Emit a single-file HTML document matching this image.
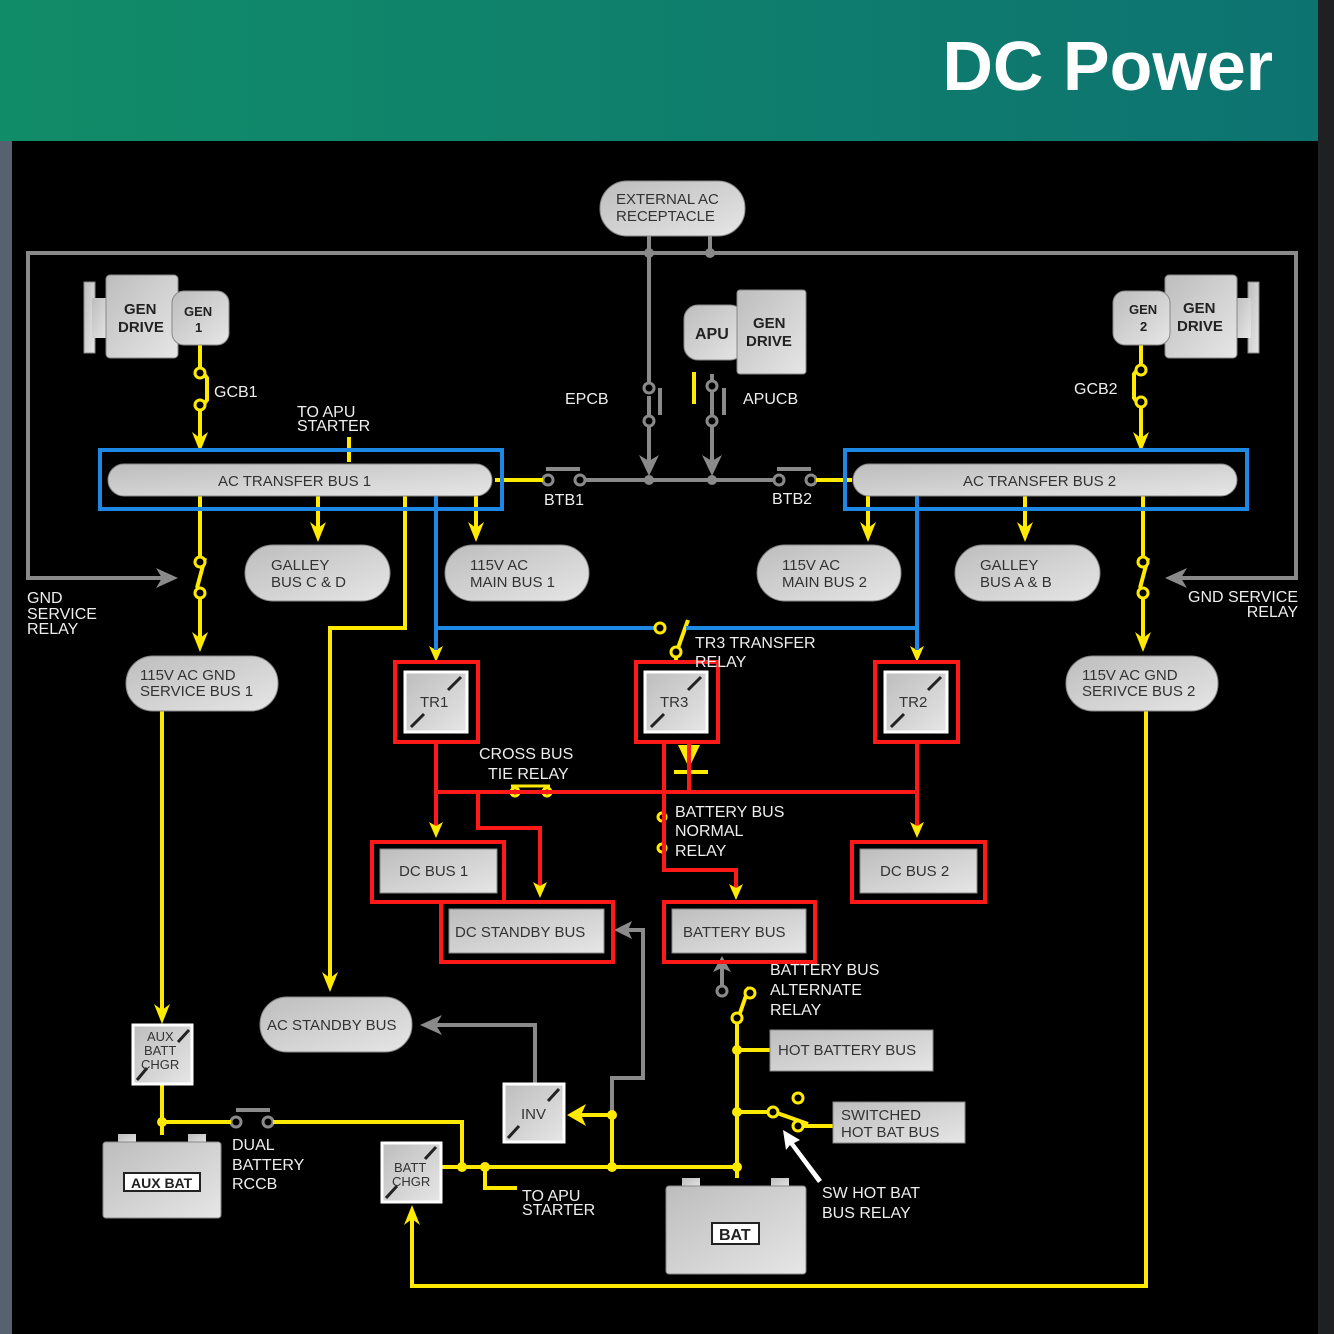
<!DOCTYPE html>
<html><head><meta charset="utf-8"><style>
html,body{margin:0;padding:0;background:#000;}
svg{display:block}
text{font-family:"Liberation Sans",sans-serif;}
</style></head><body>
<svg width="1334" height="1334" viewBox="0 0 1334 1334" xmlns="http://www.w3.org/2000/svg">
<defs>
<linearGradient id="hdr" x1="0" x2="1" y1="0" y2="0"><stop offset="0" stop-color="#118c68"/><stop offset="1" stop-color="#0d7371"/></linearGradient>
<linearGradient id="g" x1="0" x2="1" y1="0" y2="1"><stop offset="0" stop-color="#bdbdbd"/><stop offset="1" stop-color="#e6e6e6"/></linearGradient>
</defs>
<rect width="1334" height="1334" fill="#000"/>
<rect x="0" y="0" width="1318" height="141" fill="url(#hdr)"/>
<rect x="1318" y="0" width="16" height="1334" fill="#1f2022"/>
<rect x="0" y="141" width="12" height="1193" fill="#566270"/>
<text x="1273" y="90" text-anchor="end" font-size="70" font-weight="bold" fill="#fff">DC Power</text>

<g fill="none" stroke="#8a8a8a" stroke-width="4">
<polyline points="165,578 28,578 28,253 1296,253 1296,578 1180,578"/>
<line x1="649" y1="236" x2="649" y2="384"/><line x1="710" y1="236" x2="710" y2="253"/>
<line x1="649" y1="396" x2="649" y2="415"/><line x1="649" y1="427" x2="649" y2="462"/>
<line x1="712" y1="374" x2="712" y2="380"/><line x1="712" y1="392" x2="712" y2="415"/><line x1="712" y1="427" x2="712" y2="462"/>
<line x1="660" y1="388" x2="660" y2="415"/><line x1="724" y1="388" x2="724" y2="415"/>
<line x1="585" y1="480" x2="775" y2="480"/>
<line x1="546" y1="469" x2="580" y2="469"/><line x1="777" y1="469" x2="811" y2="469"/>
<polyline points="535,1083 535,1025 436,1025"/>
<polyline points="612,1115 612,1078 643,1078 643,930 628,930"/>
<line x1="722" y1="985" x2="722" y2="966"/>
<line x1="236" y1="1110" x2="270" y2="1110"/>
</g>
<g fill="#8a8a8a">
<polygon points="178,578 156,568 162,578 156,588"/><polygon points="1165,578 1187,568 1181,578 1187,588"/>
<polygon points="649,476 639,455 649,461 659,455"/><polygon points="712,476 702,455 712,461 722,455"/>
<polygon points="420,1025 442,1015 436,1025 442,1035"/><polygon points="614,930 632,921 628,930 632,939"/>
<polygon points="722,956 713,972 722,968 731,972"/>
<circle cx="649" cy="253" r="5"/><circle cx="710" cy="253" r="5"/><circle cx="649" cy="480" r="5"/><circle cx="712" cy="480" r="5"/>
</g>
<g fill="#000" stroke="#8a8a8a" stroke-width="3">
<circle cx="649" cy="388" r="5"/><circle cx="649" cy="421" r="5"/><circle cx="712" cy="386" r="5"/><circle cx="712" cy="421" r="5"/>
<circle cx="548" cy="480" r="5"/><circle cx="580" cy="480" r="5"/><circle cx="779" cy="480" r="5"/><circle cx="811" cy="480" r="5"/>
<circle cx="722" cy="991" r="5"/><circle cx="236" cy="1122" r="5"/><circle cx="268" cy="1122" r="5"/>
</g>

<!-- yellow -->
<g fill="none" stroke="#ffea00" stroke-width="4">
<line x1="200" y1="345" x2="200" y2="368"/><line x1="200" y1="410" x2="200" y2="440"/>
<polyline points="204,374 207,378 207,400 204,404"/>
<line x1="349" y1="437" x2="349" y2="462"/>
<line x1="1141" y1="345" x2="1141" y2="365"/><line x1="1141" y1="407" x2="1141" y2="440"/>
<polyline points="1137,370 1134,374 1134,398 1137,402"/>
<line x1="694" y1="372" x2="694" y2="404"/>
<line x1="495" y1="480" x2="543" y2="480"/><line x1="816" y1="480" x2="852" y2="480"/>
<line x1="200" y1="496" x2="200" y2="557"/><line x1="205" y1="558" x2="197" y2="588"/><line x1="200" y1="598" x2="200" y2="640"/>
<line x1="318" y1="496" x2="318" y2="530"/>
<line x1="476" y1="496" x2="476" y2="530"/>
<polyline points="405,496 405,628 330,628 330,980"/>
<line x1="868" y1="496" x2="868" y2="530"/>
<line x1="1025" y1="496" x2="1025" y2="530"/>
<line x1="1143" y1="496" x2="1143" y2="557"/><line x1="1148" y1="558" x2="1140" y2="588"/><line x1="1143" y1="598" x2="1143" y2="640"/>
<line x1="676" y1="652" x2="676" y2="662"/>
<line x1="678" y1="648" x2="688" y2="620"/>
<line x1="162" y1="711" x2="162" y2="1012"/>
<polyline points="1146,711 1146,1286 412,1286 412,1215"/>
<line x1="162" y1="1085" x2="162" y2="1135"/>
<line x1="162" y1="1122" x2="231" y2="1122"/>
<polyline points="273,1122 462,1122 462,1167"/>
<line x1="442" y1="1167" x2="737" y2="1167"/>
<polyline points="485,1167 485,1188 517,1188"/>
<line x1="612" y1="1115" x2="612" y2="1167"/>
<line x1="612" y1="1115" x2="580" y2="1115"/>
<line x1="737" y1="1178" x2="737" y2="1023"/>
<line x1="740" y1="1013" x2="749" y2="987"/>
<line x1="737" y1="1050" x2="770" y2="1050"/>
<line x1="737" y1="1112" x2="768" y2="1112"/>
<line x1="777" y1="1113" x2="808" y2="1124"/>
<line x1="803" y1="1126" x2="833" y2="1126"/>
</g>
<g fill="#ffea00">
<polygon points="200,452 192,432 200,438 208,432"/>
<polygon points="1141,452 1133,432 1141,438 1149,432"/>
<polygon points="200,652 192,632 200,638 208,632"/>
<polygon points="1143,652 1135,632 1143,638 1151,632"/>
<polygon points="318,542 310,522 318,528 326,522"/>
<polygon points="476,542 468,522 476,528 484,522"/>
<polygon points="868,542 860,522 868,528 876,522"/>
<polygon points="1025,542 1017,522 1025,528 1033,522"/>
<polygon points="330,992 322,972 330,978 338,972"/>
<polygon points="162,1024 154,1004 162,1010 170,1004"/>
<polygon points="436,662 429,646 436,650 443,646"/>
<polygon points="917,662 910,646 917,650 924,646"/>
<polygon points="412,1205 404,1225 412,1219 420,1225"/>
<polygon points="567,1115 586,1104 581,1115 586,1126"/>
<circle cx="162" cy="1122" r="5"/><circle cx="462" cy="1167" r="5"/><circle cx="485" cy="1167" r="5"/><circle cx="612" cy="1115" r="5"/><circle cx="612" cy="1167" r="5"/>
<circle cx="737" cy="1050" r="5"/><circle cx="737" cy="1112" r="5"/><circle cx="737" cy="1167" r="5"/>
<polygon points="678,745 700,745 689,768"/>
</g>
<line x1="674" y1="772" x2="708" y2="772" stroke="#ffea00" stroke-width="4"/>
<g fill="#000" stroke="#ffea00" stroke-width="3">
<circle cx="200" cy="373" r="5"/><circle cx="200" cy="405" r="5"/><circle cx="1141" cy="370" r="5"/><circle cx="1141" cy="402" r="5"/>
<circle cx="200" cy="562" r="5"/><circle cx="200" cy="593" r="5"/><circle cx="1143" cy="562" r="5"/><circle cx="1143" cy="593" r="5"/>
<circle cx="676" cy="652" r="5"/>
<circle cx="737" cy="1018" r="5"/><circle cx="750" cy="993" r="5"/>
<circle cx="773" cy="1112" r="5"/><circle cx="798" cy="1098" r="5"/><circle cx="798" cy="1126" r="5"/>
<circle cx="515" cy="792" r="4"/><circle cx="547" cy="792" r="4"/><circle cx="662" cy="817" r="4"/><circle cx="662" cy="848" r="4"/>
</g>
<line x1="511" y1="786" x2="550" y2="786" stroke="#ffea00" stroke-width="3"/>

<!-- blue -->
<g fill="none" stroke="#1e88e5" stroke-width="4">
<rect x="100" y="450" width="402" height="59"/>
<rect x="845" y="450" width="402" height="59"/>
<line x1="436" y1="496" x2="436" y2="650"/>
<line x1="436" y1="628" x2="655" y2="628"/>
<line x1="686" y1="628" x2="917" y2="628"/>
<line x1="917" y1="496" x2="917" y2="650"/>
</g>
<circle cx="660" cy="628" r="5" fill="#000" stroke="#ffea00" stroke-width="3"/>

<!-- red -->
<g fill="none" stroke="#ff1a1a" stroke-width="4">
<rect x="395" y="662" width="83" height="80"/>
<rect x="636" y="662" width="82" height="80"/>
<rect x="875" y="662" width="83" height="80"/>
<rect x="372" y="842" width="132" height="60"/>
<rect x="441" y="902" width="172" height="60"/>
<rect x="664" y="902" width="151" height="60"/>
<rect x="852" y="842" width="133" height="60"/>
<line x1="436" y1="742" x2="436" y2="830"/>
<line x1="436" y1="792" x2="917" y2="792"/>
<line x1="917" y1="742" x2="917" y2="830"/>
<polyline points="478,792 478,828 540,828 540,890"/>
<polyline points="664,742 664,870 736,870 736,892"/>
<line x1="689" y1="742" x2="689" y2="792"/>
</g>
<g fill="#ffea00">
<polygon points="436,838 429,822 436,826 443,822"/><polygon points="917,838 910,822 917,826 924,822"/>
<polygon points="540,898 533,882 540,886 547,882"/><polygon points="736,900 729,884 736,888 743,884"/>
</g>

<!-- shapes -->
<g fill="url(#g)" stroke="#888" stroke-width="1">
<rect x="600" y="181" width="145" height="55" rx="27"/>
<rect x="84" y="282" width="11" height="71"/><rect x="92" y="298" width="16" height="40" stroke="none"/>
<rect x="106" y="275" width="72" height="83" rx="4"/><rect x="172" y="291" width="57" height="54" rx="12"/>
<rect x="1248" y="282" width="11" height="71"/><rect x="1235" y="298" width="16" height="40" stroke="none"/>
<rect x="1165" y="275" width="72" height="83" rx="4"/><rect x="1113" y="291" width="57" height="54" rx="12"/>
<rect x="684" y="305" width="60" height="55" rx="14"/><rect x="737" y="290" width="69" height="84" rx="3"/>
<rect x="108" y="464" width="384" height="32" rx="16"/>
<rect x="853" y="464" width="384" height="32" rx="16"/>
<rect x="245" y="545" width="145" height="56" rx="28"/>
<rect x="445" y="545" width="144" height="56" rx="28"/>
<rect x="757" y="545" width="144" height="56" rx="28"/>
<rect x="955" y="545" width="145" height="56" rx="28"/>
<rect x="126" y="656" width="152" height="55" rx="27"/>
<rect x="1066" y="656" width="152" height="55" rx="27"/>
<rect x="260" y="997" width="152" height="55" rx="27"/>
<rect x="380" y="849" width="117" height="44"/>
<rect x="449" y="909" width="155" height="44"/>
<rect x="672" y="909" width="134" height="44"/>
<rect x="860" y="849" width="117" height="44"/>
<rect x="770" y="1030" width="163" height="41"/>
<rect x="833" y="1102" width="132" height="41"/>
<rect x="118" y="1134" width="18" height="10" stroke="none"/><rect x="188" y="1134" width="18" height="10" stroke="none"/>
<rect x="103" y="1142" width="118" height="76" rx="3"/>
<rect x="682" y="1178" width="18" height="10" stroke="none"/><rect x="771" y="1178" width="18" height="10" stroke="none"/>
<rect x="666" y="1186" width="140" height="88" rx="3"/>
</g>
<g fill="url(#g)" stroke="#fff" stroke-width="3">
<rect x="405" y="672" width="62" height="60"/><rect x="645" y="672" width="62" height="60"/><rect x="885" y="672" width="62" height="60"/>
<rect x="133" y="1025" width="59" height="59"/><rect x="504" y="1084" width="60" height="58"/><rect x="382" y="1143" width="59" height="59"/>
</g>
<g stroke="#222" stroke-width="3">
<line x1="448" y1="690" x2="461" y2="677"/><line x1="411" y1="727" x2="424" y2="714"/>
<line x1="688" y1="690" x2="701" y2="677"/><line x1="651" y1="727" x2="664" y2="714"/>
<line x1="928" y1="690" x2="941" y2="677"/><line x1="891" y1="727" x2="904" y2="714"/>
<line x1="178" y1="1042" x2="189" y2="1030"/><line x1="137" y1="1080" x2="147" y2="1068"/>
<line x1="548" y1="1101" x2="559" y2="1089"/><line x1="508" y1="1138" x2="519" y2="1126"/>
<line x1="425" y1="1159" x2="436" y2="1147"/><line x1="386" y1="1198" x2="397" y2="1186"/>
</g>
<rect x="124" y="1173" width="76" height="18" fill="#fff" stroke="#222" stroke-width="2"/>
<rect x="712" y="1223" width="47" height="21" fill="#fff" stroke="#222" stroke-width="2"/>
<polygon points="818,1183 790,1145 786,1150 783,1130 800,1140 794,1143 822,1180" fill="#fff"/>

<!-- text dark -->
<g fill="#333" font-size="15">
<text x="616" y="204">EXTERNAL AC</text><text x="616" y="221">RECEPTACLE</text>
<text x="218" y="486">AC TRANSFER BUS 1</text><text x="963" y="486">AC TRANSFER BUS 2</text>
<text x="271" y="570">GALLEY</text><text x="271" y="587">BUS C &amp; D</text>
<text x="470" y="570">115V AC</text><text x="470" y="587">MAIN BUS 1</text>
<text x="782" y="570">115V AC</text><text x="782" y="587">MAIN BUS 2</text>
<text x="980" y="570">GALLEY</text><text x="980" y="587">BUS A &amp; B</text>
<text x="140" y="680">115V AC GND</text><text x="140" y="696">SERVICE BUS 1</text>
<text x="1082" y="680">115V AC GND</text><text x="1082" y="696">SERIVCE BUS 2</text>
<text x="420" y="707">TR1</text><text x="660" y="707">TR3</text><text x="899" y="707">TR2</text>
<text x="399" y="876">DC BUS 1</text><text x="455" y="937">DC STANDBY BUS</text>
<text x="683" y="937">BATTERY BUS</text><text x="880" y="876">DC BUS 2</text>
<text x="267" y="1030">AC STANDBY BUS</text>
<text x="778" y="1055">HOT BATTERY BUS</text>
<text x="841" y="1120">SWITCHED</text><text x="841" y="1137">HOT BAT BUS</text>
<text x="521" y="1119">INV</text>
<text x="147" y="1041" font-size="13">AUX</text><text x="144" y="1055" font-size="13">BATT</text><text x="141" y="1069" font-size="13">CHGR</text>
<text x="394" y="1172" font-size="13">BATT</text><text x="392" y="1186" font-size="13">CHGR</text>
</g>
<g fill="#222" font-size="15" font-weight="bold">
<text x="124" y="314">GEN</text><text x="118" y="332">DRIVE</text><text x="184" y="316" font-size="13">GEN</text><text x="195" y="332" font-size="13">1</text>
<text x="1183" y="313">GEN</text><text x="1177" y="331">DRIVE</text><text x="1129" y="314" font-size="13">GEN</text><text x="1140" y="331" font-size="13">2</text>
<text x="695" y="339" font-size="16">APU</text><text x="753" y="328">GEN</text><text x="746" y="346">DRIVE</text>
<text x="131" y="1188" font-size="14">AUX BAT</text><text x="719" y="1240" font-size="16">BAT</text>
</g>
<!-- text white -->
<g fill="#eee" font-size="16">
<text x="214" y="397">GCB1</text><text x="297" y="417">TO APU</text><text x="297" y="431">STARTER</text>
<text x="565" y="404">EPCB</text><text x="743" y="404">APUCB</text><text x="1074" y="394">GCB2</text>
<text x="544" y="505">BTB1</text><text x="772" y="504">BTB2</text>
<text x="27" y="603">GND</text><text x="27" y="619">SERVICE</text><text x="27" y="634">RELAY</text>
<text x="1298" y="602" text-anchor="end">GND SERVICE</text><text x="1298" y="617" text-anchor="end">RELAY</text>
<text x="695" y="648">TR3 TRANSFER</text><text x="695" y="667">RELAY</text>
<text x="479" y="759">CROSS BUS</text><text x="488" y="779">TIE RELAY</text>
<text x="675" y="817">BATTERY BUS</text><text x="675" y="836">NORMAL</text><text x="675" y="856">RELAY</text>
<text x="770" y="975">BATTERY BUS</text><text x="770" y="995">ALTERNATE</text><text x="770" y="1015">RELAY</text>
<text x="232" y="1150">DUAL</text><text x="232" y="1170">BATTERY</text><text x="232" y="1189">RCCB</text>
<text x="522" y="1201">TO APU</text><text x="522" y="1215">STARTER</text>
<text x="822" y="1198">SW HOT BAT</text><text x="822" y="1218">BUS RELAY</text>
</g>
</svg>
</body></html>
